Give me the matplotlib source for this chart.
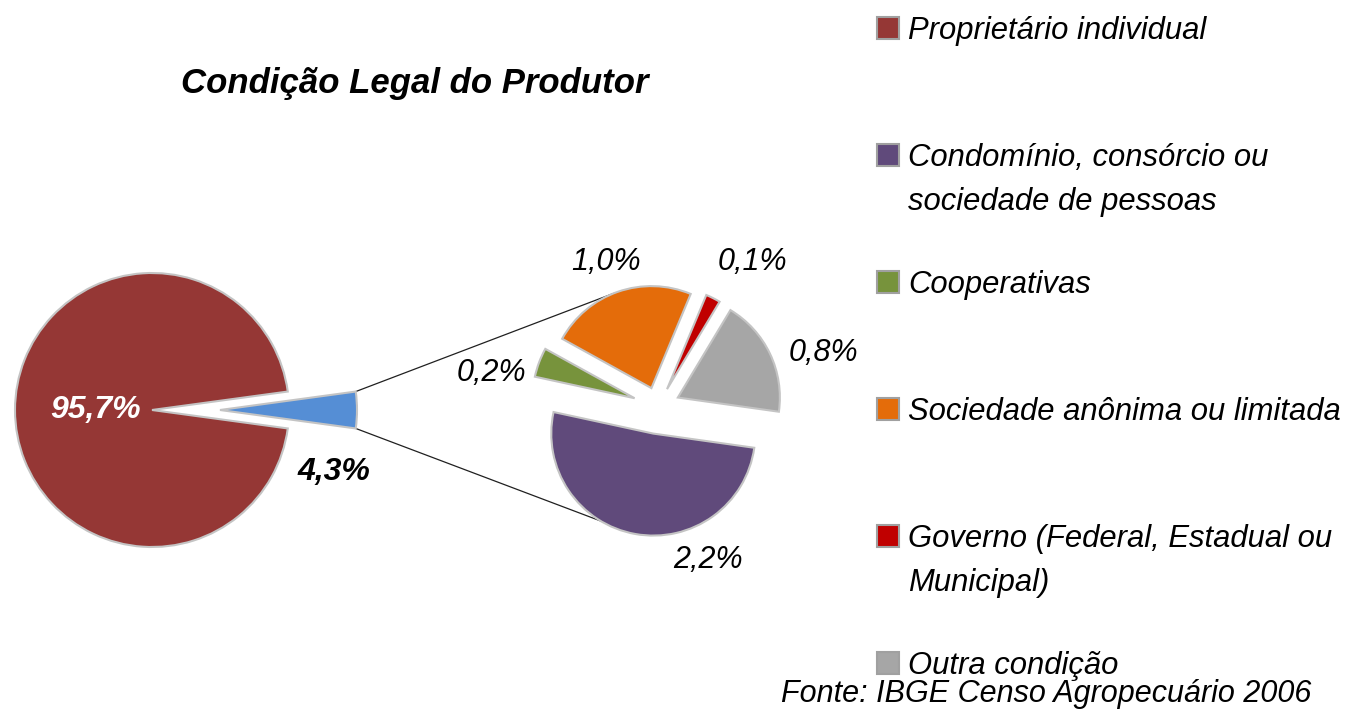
import matplotlib

matplotlib.use("Agg")

import matplotlib.pyplot as plt
import numpy as np
from matplotlib.patches import Rectangle

WIDTH, HEIGHT = 1345, 709

title = "Condição Legal do Produtor"
source_note = "Fonte: IBGE Censo Agropecuário 2006"

categories = [
    "Proprietário individual",
    "Condomínio, consórcio ou\nsociedade de pessoas",
    "Cooperativas",
    "Sociedade anônima ou limitada",
    "Governo (Federal, Estadual ou\nMunicipal)",
    "Outra condição",
]
shares = [95.7, 2.2, 0.2, 1.0, 0.1, 0.8]
colors = ["#953735", "#604A7B", "#77933C", "#E46C0A", "#C00000", "#A6A6A6"]
other_color = "#558ED5"

# layout in image pixels (y measured from the top)
main_center = (152, 410)
main_radius = 137
other_explode = 68
sub_center = (658, 407)
sub_radius = 102
sub_explode = [27, 25, 20, 20, 22]
sub_startangle = -8
main_label_pos = [(96, 410), (334, 472)]
sub_label_pos = [(708, 560), (491, 373), (606, 262), (752, 262), (823, 353)]
legend_x = 888
legend_y0 = 28
legend_step = 127
line_gap = 44

EDGE = "#C4C4C4"
FONT = "Liberation Sans"


def px(x, y):
    return x, HEIGHT - y


def pct(value):
    return f"{value:.1f}%".replace(".", ",")


def arc_point(wedge, angle):
    cx, cy = wedge.center
    return cx + wedge.r * np.cos(np.radians(angle)), cy + wedge.r * np.sin(np.radians(angle))


fig = plt.figure(figsize=(WIDTH / 100, HEIGHT / 100), dpi=100)
ax = fig.add_axes([0, 0, 1, 1])

other_share = sum(shares[1:])
main_values = [shares[0], other_share]
main_wedges, _ = ax.pie(
    main_values,
    colors=[colors[0], other_color],
    explode=[0, other_explode],
    radius=main_radius,
    center=px(*main_center),
    startangle=180 * other_share / sum(main_values),
    wedgeprops=dict(edgecolor=EDGE, linewidth=1.5),
)

sub_wedges, _ = ax.pie(
    shares[1:],
    colors=colors[1:],
    explode=sub_explode,
    radius=sub_radius,
    center=px(*sub_center),
    startangle=sub_startangle,
    counterclock=False,
    wedgeprops=dict(edgecolor=EDGE, linewidth=1.5),
)

# connector lines from the "other" slice to the breakdown pie
blue = main_wedges[1]
top_start = arc_point(blue, blue.theta2)
bottom_start = arc_point(blue, blue.theta1)
top_end = arc_point(sub_wedges[2], 112)
bottom_end = arc_point(sub_wedges[0], -121)
for start, end in [(top_start, top_end), (bottom_start, bottom_end)]:
    ax.plot([start[0], end[0]], [start[1], end[1]], color="#202020", linewidth=0.9, zorder=0)

ax.text(*px(*main_label_pos[0]), pct(shares[0]), color="white", fontsize=23,
        fontweight="bold", fontstyle="italic", family=FONT, ha="center", va="center")
ax.text(*px(*main_label_pos[1]), pct(other_share), color="black", fontsize=23,
        fontweight="bold", fontstyle="italic", family=FONT, ha="center", va="center")
for value, pos in zip(shares[1:], sub_label_pos):
    ax.text(*px(*pos), pct(value), color="black", fontsize=22,
            fontstyle="italic", family=FONT, ha="center", va="center")

ax.text(*px(415, 84), title, fontsize=25, fontweight="bold", fontstyle="italic",
        family=FONT, ha="center", va="center")

# legend, laid out like the spreadsheet one
for i, (label, color) in enumerate(zip(categories, colors)):
    y = legend_y0 + i * legend_step
    ax.add_patch(Rectangle(px(legend_x - 11, y + 11), 22, 22, facecolor=color,
                           edgecolor="#A0A0A0", linewidth=1.5))
    for j, line in enumerate(label.split("\n")):
        ax.text(*px(legend_x + 20, y + 11 + j * line_gap), line, fontsize=22.3,
                fontstyle="italic", family=FONT, ha="left", va="baseline")

ax.text(*px(1046, 702), source_note, fontsize=22, fontstyle="italic", family=FONT,
        ha="center", va="baseline")

ax.set_xlim(0, WIDTH)
ax.set_ylim(0, HEIGHT)
ax.set_aspect("equal")
ax.axis("off")

fig.savefig("out.png", dpi=100)
plt.close(fig)
